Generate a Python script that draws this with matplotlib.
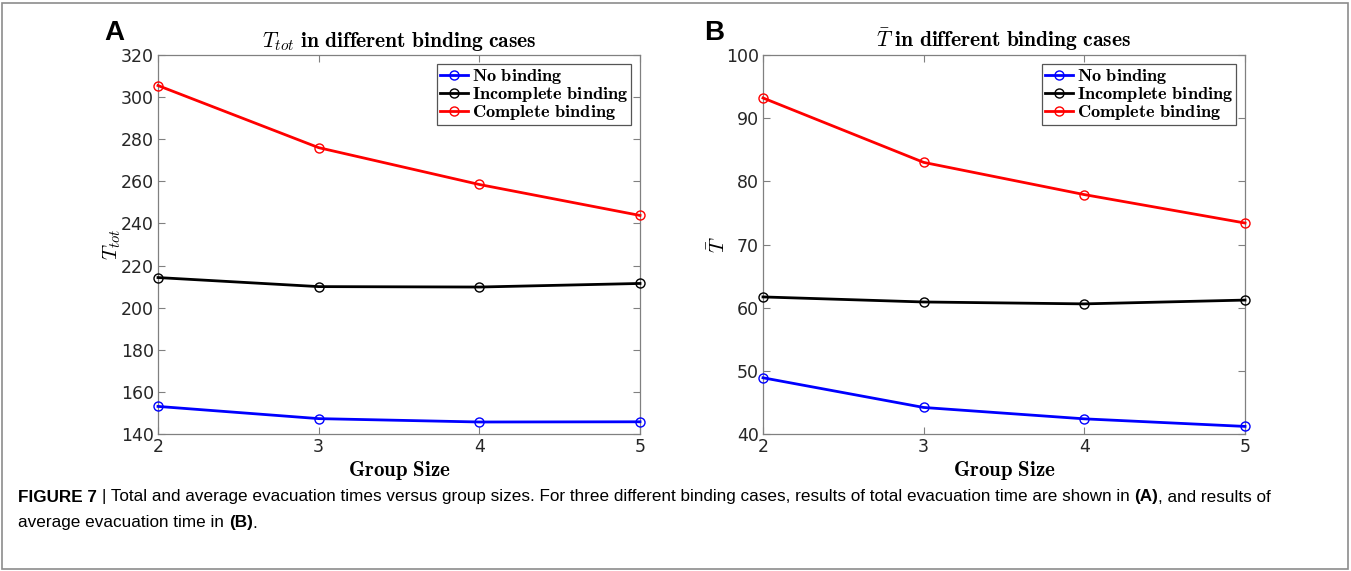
import numpy as np
import matplotlib.pyplot as plt
from matplotlib.patches import Rectangle

plt.rcParams['mathtext.fontset'] = 'cm'

# Tamaños de grupo
group_size = [2, 3, 4, 5]

# Tiempo total de evacuación (A)
tot_none = [153.1, 147.3, 145.7, 145.8]
tot_incomplete = [214.3, 210.0, 209.8, 211.5]
tot_complete = [305.5, 276.0, 258.5, 243.8]

# Tiempo medio de evacuación (B)
avg_none = [48.9, 44.2, 42.4, 41.2]
avg_incomplete = [61.7, 60.9, 60.6, 61.2]
avg_complete = [93.2, 83.0, 77.9, 73.4]

labels = [r'$\mathbf{No\ binding}$', r'$\mathbf{Incomplete\ binding}$',
          r'$\mathbf{Complete\ binding}$']
colors = ['#0000ff', '#000000', '#ff0000']

fig = plt.figure(figsize=(13.51, 5.71), dpi=100)
ax_a = fig.add_axes([158 / 1351, 1 - 434 / 571, 482 / 1351, 379 / 571])
ax_b = fig.add_axes([763 / 1351, 1 - 434 / 571, 482 / 1351, 379 / 571])


def panel(ax, series, ylim, yticks, title, ylabel):
    for ys, c, lab in zip(series, colors, labels):
        ax.plot(group_size, ys, color=c, lw=2, marker='o', ms=6.5,
                mfc='none', mec=c, mew=1, label=lab, clip_on=False, zorder=3)
    ax.set_xlim(2, 5)
    ax.set_ylim(*ylim)
    ax.set_xticks(group_size)
    ax.set_yticks(yticks)
    ax.tick_params(direction='in', top=True, right=True, length=5,
                   width=0.8, color='#808080', labelsize=12.5,
                   labelcolor='#262626', pad=3)
    for s in ax.spines.values():
        s.set_color('#808080')
        s.set_linewidth(0.9)
    ax.set_title(title, fontsize=15.5, pad=6)
    ax.set_xlabel(r'$\mathbf{Group\ Size}$', fontsize=15, labelpad=2)
    ax.set_ylabel(ylabel, fontsize=15, labelpad=-2)
    leg = ax.legend(loc='upper right', fontsize=13.2, handlelength=1.55,
                    handletextpad=0.2, borderpad=0.15, labelspacing=-0.05,
                    fancybox=False, framealpha=1, borderaxespad=0.5)
    leg.get_frame().set_edgecolor('#555555')
    leg.get_frame().set_linewidth(0.9)


panel(ax_a, [tot_none, tot_incomplete, tot_complete], (140, 320),
      np.arange(140, 321, 20), r'$T_{tot}\ \mathbf{in\ different\ binding\ cases}$',
      r'$T_{tot}$')
panel(ax_b, [avg_none, avg_incomplete, avg_complete], (40, 100),
      np.arange(40, 101, 10), r'$\bar{T}\ \mathbf{in\ different\ binding\ cases}$',
      r'$\bar{T}$')

# Letras de panel
fig.text(104 / 1351, 1 - 33 / 571, 'A', fontsize=20, fontweight='bold',
         family='Liberation Sans', va='center')
fig.text(704 / 1351, 1 - 33 / 571, 'B', fontsize=20, fontweight='bold',
         family='Liberation Sans', va='center')

# Pie de figura, escrito por trozos (normal / negrita)
cap_size = 12.3
renderer = fig.canvas.get_renderer()


def caption_line(x_px, y_px, pieces):
    x = x_px
    for txt, bold in pieces:
        t = fig.text(x / 1351, 1 - y_px / 571, txt, fontsize=cap_size,
                     fontweight='bold' if bold else 'normal',
                     family='Liberation Sans', va='center')
        x += t.get_window_extent(renderer).width


caption_line(18, 497, [
    ('FIGURE 7 ', True),
    ('| Total and average evacuation times versus group sizes. For three different '
     'binding cases, results of total evacuation time are shown in ', False),
    ('(A)', True),
    (', and results of', False),
])
caption_line(18, 523, [
    ('average evacuation time in ', False),
    ('(B)', True),
    ('.', False),
])

# Marco exterior
fig.patches.append(Rectangle((2 / 1351, 2 / 571), 1346 / 1351, 566 / 571,
                             transform=fig.transFigure, fill=False,
                             edgecolor='#8c8c8c', lw=1.2))

fig.savefig('out.png', dpi=100)
